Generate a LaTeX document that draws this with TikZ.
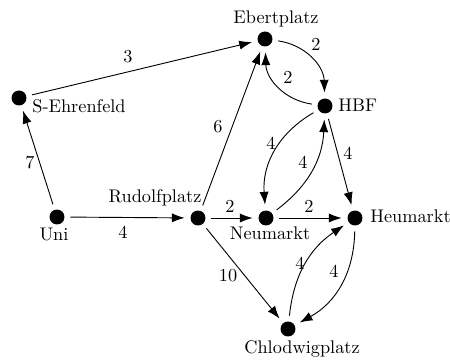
\documentclass[tikz,border=0pt]{standalone}
\usetikzlibrary{arrows.meta}
\begin{document}
\begin{tikzpicture}[x=0.547pt,y=-0.547pt,
  stopdot/.style={circle,fill=black,inner sep=0pt,minimum size=8.2pt,outer sep=3.2pt},
  stname/.style={inner sep=0pt,anchor=base},
  wt/.style={inner sep=0pt},
  conn/.style={-{Latex[length=7pt,width=5pt]},line width=0.5pt}]
\useasboundingbox (0,0) rectangle (450,360);
% stops
\node[stopdot] (eb) at (265,39) {};
\node[stopdot] (hbf) at (325,106) {};
\node[stopdot] (se) at (19,98) {};
\node[stopdot] (uni) at (57,217) {};
\node[stopdot] (rp) at (198,218) {};
\node[stopdot] (nm) at (266,218) {};
\node[stopdot] (hm) at (355,218) {};
\node[stopdot] (cp) at (288,329) {};
% names
\node[stname] (ebL) at (276,24) {Ebertplatz};
\node[stname,anchor=base west] (hbfL) at (338,112) {HBF};
\node[stname,anchor=base west] (seL) at (32,113) {S-Ehrenfeld};
\node[stname] (uniL) at (54,241) {Uni};
\node[stname] (rpL) at (155,203) {Rudolfplatz};
\node[stname] (nmL) at (270,240) {Neumarkt};
\node[stname,anchor=base west] (hmL) at (370,223) {Heumarkt};
\node[stname] (cpL) at (302,354) {Chlodwigplatz};
% connectors
\draw[conn] (uni) -- (se);
\draw[conn] (se) -- (eb);
\draw[conn] (uni) -- (rp);
\draw[conn] (rp) -- (eb);
\draw[conn] (rp) -- (nm);
\draw[conn] (nm) -- (hm);
\draw[conn] (rp) -- (cp);
\draw[conn] (eb) to[bend left=40] (hbf);
\draw[conn] (hbf) to[bend left=40] (eb);
\draw[conn] (hbf) to[bend right=32] (nm);
\draw[conn] (nm) to[bend right=25] (hbf);
\draw[conn] (hbf) -- (hm);
\draw[conn] (cp) to[bend left=25] (hm);
\draw[conn] (hm) to[bend left=30] (cp);
% weights
\node[wt] (w1) at (30,163) {7};
\node[wt] (w2) at (128,57) {3};
\node[wt] (w3) at (123,232) {4};
\node[wt] (w4) at (218,127) {6};
\node[wt] (w5) at (230,206) {2};
\node[wt] (w6) at (309,206) {2};
\node[wt] (w7) at (228,276) {10};
\node[wt] (w8) at (316,44) {2};
\node[wt] (w9) at (288,77) {2};
\node[wt] (w10) at (271,143) {4};
\node[wt] (w11) at (303,162) {4};
\node[wt] (w12) at (348,153) {4};
\node[wt] (w13) at (300,263) {4};
\node[wt] (w14) at (334,271) {4};
\end{tikzpicture}
\end{document}
